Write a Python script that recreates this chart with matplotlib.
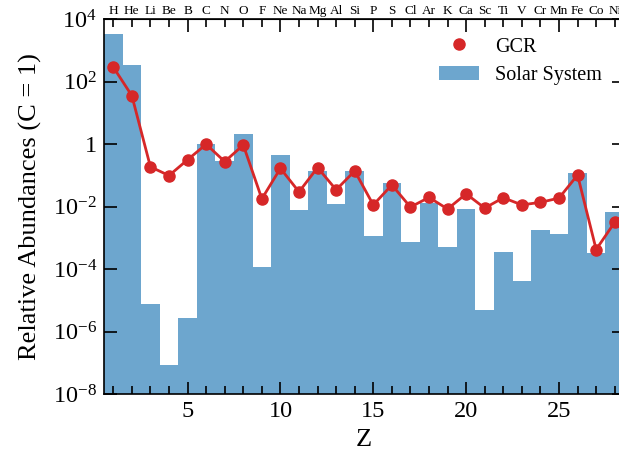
import numpy as np
import matplotlib
matplotlib.use("Agg")
import matplotlib.pyplot as plt
from matplotlib.ticker import FixedLocator, NullLocator, MultipleLocator, FuncFormatter

plt.rcParams.update({
    "font.family": ["Liberation Serif", "DejaVu Serif"],
    "mathtext.fontset": "custom",
    "mathtext.rm": "Liberation Serif",
    "mathtext.it": "Liberation Serif:italic",
    "mathtext.bf": "Liberation Serif:bold",
})

# Element symbols for Z = 1..28
elements = ["H", "He", "Li", "Be", "B", "C", "N", "O", "F", "Ne", "Na", "Mg", "Al", "Si",
            "P", "S", "Cl", "Ar", "K", "Ca", "Sc", "Ti", "V", "Cr", "Mn", "Fe", "Co", "Ni"]
Z = np.arange(1, 29)

# Solar System abundances, normalised to carbon
solar = [3.4e3, 3.4e2, 7.7e-6, 8.7e-8, 2.8e-6, 1.0, 0.29, 2.1, 1.2e-4, 0.45,
         7.9e-3, 0.14, 1.2e-2, 0.14, 1.2e-3, 0.058, 7.4e-4, 0.013, 5.1e-4, 8.5e-3,
         5.0e-6, 3.6e-4, 4.3e-5, 1.8e-3, 1.3e-3, 0.12, 3.3e-4, 6.8e-3]

# Galactic cosmic ray abundances, normalised to carbon
gcr = [295, 36, 0.19, 0.10, 0.32, 1.0, 0.28, 0.95, 0.018, 0.17,
       0.030, 0.18, 0.035, 0.14, 0.0115, 0.050, 0.0098, 0.020, 0.0085, 0.026,
       0.0091, 0.0195, 0.0115, 0.0139, 0.019, 0.104, 4.3e-4, 3.2e-3]

fig = plt.figure(figsize=(6.19, 4.55), dpi=100)
ax = fig.add_axes([104 / 619, 60.7 / 455, 520 / 619, 375 / 455])

bars = ax.bar(Z, solar, width=1.0, bottom=1e-10, color="tab:blue", alpha=0.65,
              linewidth=0, label="Solar System")
ax.plot(Z, gcr, "-", color="#d62728", lw=2.0, zorder=3)
pts, = ax.plot(Z, gcr, "o", color="#d62728", ms=8, zorder=4, label="GCR")

ax.set_yscale("log")
ax.set_ylim(1e-8, 1e4)
ax.set_xlim(0.5, 28.5)

ax.yaxis.set_major_locator(FixedLocator(10.0 ** np.arange(-8, 5, 2)))
ax.yaxis.set_minor_locator(NullLocator())


def yfmt(v, pos):
    e = int(round(np.log10(v)))
    return "1" if e == 0 else r"$10^{%d}$" % e


ax.yaxis.set_major_formatter(FuncFormatter(yfmt))
ax.xaxis.set_major_locator(MultipleLocator(5))
ax.xaxis.set_minor_locator(MultipleLocator(1))

ax.tick_params(which="both", direction="in", top=True, right=True, labelsize=17.5, width=1.2)
ax.tick_params(which="major", length=9)
ax.tick_params(which="minor", length=5.5)
ax.tick_params(axis="x", which="major", pad=5)
ax.tick_params(axis="y", which="major", pad=5)
for s in ax.spines.values():
    s.set_linewidth(1.2)

# Element symbols along the top
sec = ax.secondary_xaxis("top")
sec.set_xticks(Z)
sec.set_xticklabels(elements, fontsize=9.5)
sec.tick_params(length=0, pad=2)

ax.set_xlabel("Z", fontsize=19, labelpad=5)
ax.set_ylabel("Relative Abundances (C = 1)", fontsize=19, labelpad=8)

ax.legend(handles=[pts, bars], labels=["GCR", "Solar System"], loc="upper right",
          bbox_to_anchor=(0.993, 1.0), frameon=False, fontsize=14.5,
          handlelength=2.0, handletextpad=0.8, labelspacing=0.45)

fig.savefig("out.png", dpi=100)
